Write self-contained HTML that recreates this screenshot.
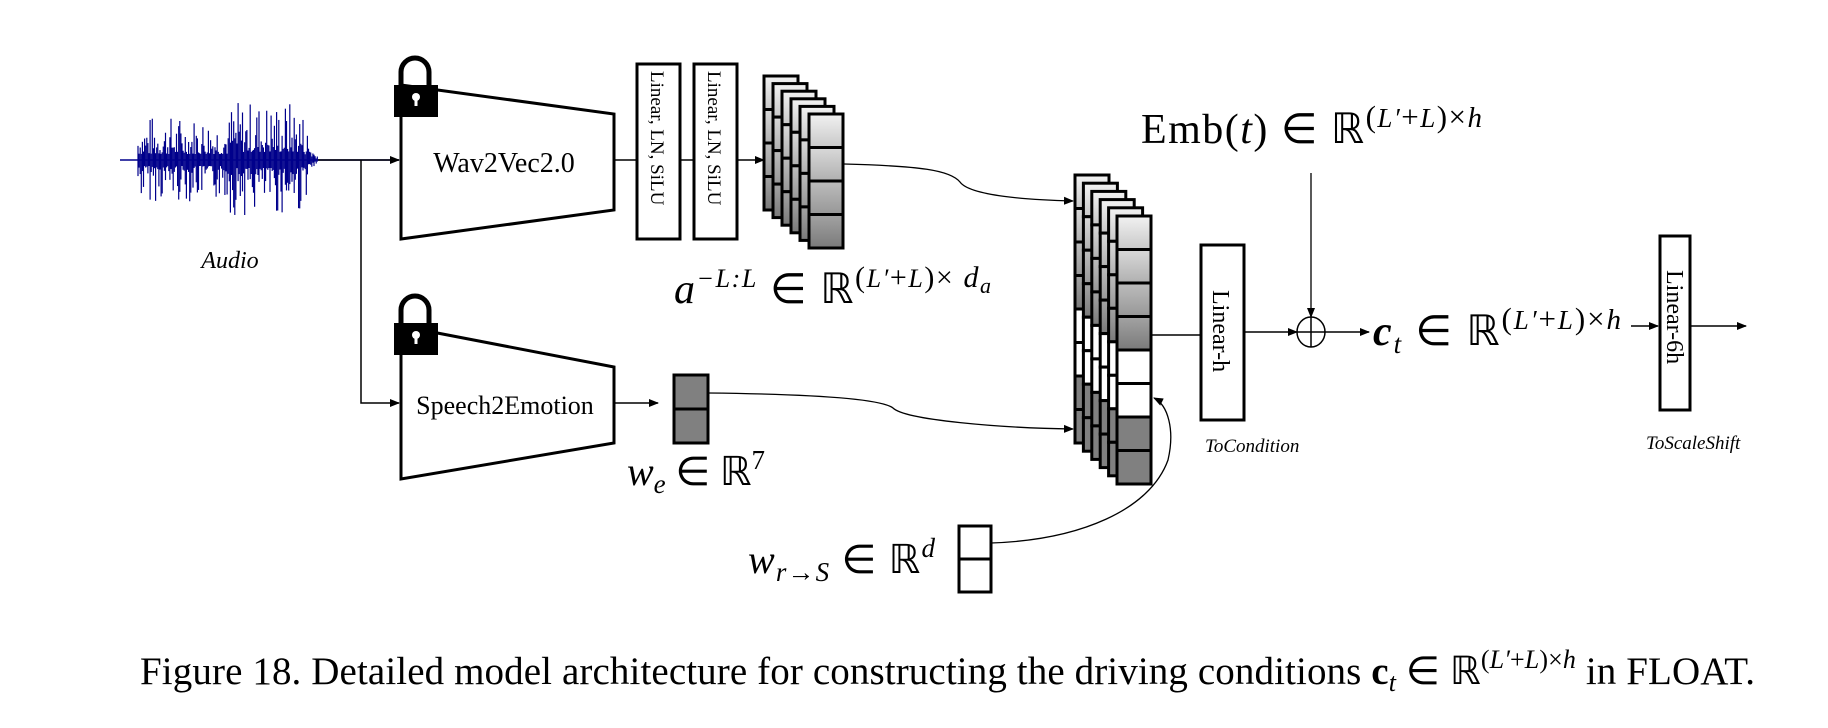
<!DOCTYPE html>
<html><head><meta charset="utf-8"><style>
html,body{margin:0;padding:0;background:#fff;}
svg{display:block;}
text{font-family:"Liberation Serif",serif;}
</style></head><body>
<svg id="s" width="1828" height="728" viewBox="0 0 1828 728" xmlns="http://www.w3.org/2000/svg">
<defs>
<marker id="ar" markerWidth="10" markerHeight="10" refX="9" refY="5" orient="auto" markerUnits="userSpaceOnUse"><path d="M0,1 L10,5 L0,9 z" fill="#000"/></marker>
<linearGradient id="g1" x1="0" y1="0" x2="0" y2="1"><stop offset="0" stop-color="#f2f2f2"/><stop offset="1" stop-color="#c8c8c8"/></linearGradient>
<linearGradient id="g2" x1="0" y1="0" x2="0" y2="1"><stop offset="0" stop-color="#d9d9d9"/><stop offset="1" stop-color="#b0b0b0"/></linearGradient>
<linearGradient id="g3" x1="0" y1="0" x2="0" y2="1"><stop offset="0" stop-color="#bdbdbd"/><stop offset="1" stop-color="#979797"/></linearGradient>
<linearGradient id="g4" x1="0" y1="0" x2="0" y2="1"><stop offset="0" stop-color="#a3a3a3"/><stop offset="1" stop-color="#7a7a7a"/></linearGradient>
</defs>
<g id="wave" stroke="#00008b" stroke-width="1.2"></g>
<line x1="120" y1="160" x2="399" y2="160" stroke="#00008b" stroke-width="1.5"/>
<line x1="318" y1="160" x2="399" y2="160" stroke="#000" stroke-width="1.5" marker-end="url(#ar)"/>
<polyline points="361,160 361,403 399,403" fill="none" stroke="#000" stroke-width="1.5" marker-end="url(#ar)"/>
<text x="230" y="268" font-size="24" font-style="italic" text-anchor="middle">Audio</text>

<polygon points="401,85 614,114 614,210 401,239" fill="#fff" stroke="#000" stroke-width="3"/>
<text x="504" y="172" font-size="28" text-anchor="middle">Wav2Vec2.0</text>
<g transform="translate(394,56)">
<path d="M7,30 V16 a14,14 0 0 1 28,0 V30" fill="none" stroke="#000" stroke-width="5"/>
<rect x="0" y="29" width="44" height="32" fill="#000"/>
<circle cx="22" cy="41" r="4" fill="#fff"/><rect x="20.5" y="42" width="3" height="8" fill="#fff"/>
</g>
<line x1="614" y1="160" x2="637" y2="160" stroke="#000" stroke-width="1.5"/>
<rect x="637" y="64" width="43" height="175" fill="#fff" stroke="#000" stroke-width="3"/>
<line x1="680" y1="160" x2="694" y2="160" stroke="#000" stroke-width="1.5"/>
<rect x="694" y="64" width="43" height="175" fill="#fff" stroke="#000" stroke-width="3"/>
<text transform="translate(651,71) rotate(90)" font-size="19">Linear, LN, SiLU</text>
<text transform="translate(708,71) rotate(90)" font-size="19">Linear, LN, SiLU</text>
<line x1="737" y1="160" x2="764" y2="160" stroke="#000" stroke-width="1.5" marker-end="url(#ar)"/>
<g id="stackA"></g>
<text x="674" y="303" font-size="42" font-style="italic" textLength="317" lengthAdjust="spacing">a<tspan dy="-16" font-size="26">−L:L</tspan><tspan dy="16" font-style="normal"> ∈ ℝ</tspan><tspan dy="-16" font-size="30" font-style="normal">(</tspan><tspan font-size="26">L′</tspan><tspan font-size="30" font-style="normal">+</tspan><tspan font-size="26">L</tspan><tspan font-size="30" font-style="normal">)× </tspan><tspan font-size="30">d</tspan><tspan dy="6" font-size="22">a</tspan></text>

<polygon points="401,326 614,367 614,443 401,479" fill="#fff" stroke="#000" stroke-width="3"/>
<text x="505" y="414" font-size="26" text-anchor="middle">Speech2Emotion</text>
<g transform="translate(394,294)">
<path d="M7,30 V16 a14,14 0 0 1 28,0 V30" fill="none" stroke="#000" stroke-width="5"/>
<rect x="0" y="29" width="44" height="32" fill="#000"/>
<circle cx="22" cy="41" r="4" fill="#fff"/><rect x="20.5" y="42" width="3" height="8" fill="#fff"/>
</g>
<line x1="614" y1="403" x2="658" y2="403" stroke="#000" stroke-width="1.5" marker-end="url(#ar)"/>
<rect x="674" y="375" width="34" height="34" fill="#808080" stroke="#000" stroke-width="3"/>
<rect x="674" y="409" width="34" height="34" fill="#808080" stroke="#000" stroke-width="3"/>
<text x="627" y="485" font-size="40" font-style="italic" textLength="138" lengthAdjust="spacing">w<tspan dy="8" font-size="27">e</tspan><tspan dy="-8" font-style="normal"> ∈ ℝ</tspan><tspan dy="-16" font-size="27" font-style="normal">7</tspan></text>

<rect x="959" y="526" width="32" height="33" fill="#fff" stroke="#000" stroke-width="3"/>
<rect x="959" y="559" width="32" height="33" fill="#fff" stroke="#000" stroke-width="3"/>
<text x="748" y="573" font-size="40" font-style="italic" textLength="187" lengthAdjust="spacing">w<tspan dy="8" font-size="27">r→S</tspan><tspan dy="-8" font-style="normal"> ∈ ℝ</tspan><tspan dy="-16" font-size="27">d</tspan></text>

<path d="M844,164 C920,166 950,170 960,182 C970,196 1030,200 1073,201" fill="none" stroke="#000" stroke-width="1.3" marker-end="url(#ar)"/>
<path d="M708,393 C800,394 880,398 893,408 C905,420 1000,428 1073,429" fill="none" stroke="#000" stroke-width="1.3" marker-end="url(#ar)"/>
<g id="stackB"></g>
<path d="M991,543 C1080,540 1150,510 1168,460 C1175,430 1168,405 1154,398" fill="none" stroke="#000" stroke-width="1.3" marker-end="url(#ar)"/>

<line x1="1151" y1="335" x2="1201" y2="335" stroke="#000" stroke-width="1.5"/>
<rect x="1201" y="245" width="43" height="175" fill="#fff" stroke="#000" stroke-width="3"/>
<text transform="translate(1213,290) rotate(90)" font-size="24">Linear-h</text>
<text x="1205" y="452" font-size="19" font-style="italic">ToCondition</text>
<line x1="1244" y1="332" x2="1297" y2="332" stroke="#000" stroke-width="1.5" marker-end="url(#ar)"/>
<ellipse cx="1311" cy="332" rx="14" ry="15" fill="#fff" stroke="#000" stroke-width="1.5"/>
<line x1="1297" y1="332" x2="1325" y2="332" stroke="#000" stroke-width="1.5"/>
<line x1="1311" y1="317" x2="1311" y2="347" stroke="#000" stroke-width="1.5"/>
<line x1="1311" y1="173" x2="1311" y2="317" stroke="#000" stroke-width="1.3" marker-end="url(#ar)"/>
<line x1="1325" y1="332" x2="1369" y2="332" stroke="#000" stroke-width="1.5" marker-end="url(#ar)"/>
<text x="1141" y="143" font-size="42" textLength="341" lengthAdjust="spacing">Emb(<tspan font-style="italic">t</tspan>) ∈ ℝ<tspan dy="-16" font-size="31">(</tspan><tspan font-size="27" font-style="italic">L′</tspan><tspan font-size="31">+</tspan><tspan font-size="27" font-style="italic">L</tspan><tspan font-size="31">)×</tspan><tspan font-size="29" font-style="italic">h</tspan></text>
<text x="1373" y="345" font-size="42" font-style="italic" font-weight="bold" textLength="248" lengthAdjust="spacing">c<tspan dy="8" font-size="27" font-weight="normal">t</tspan><tspan dy="-8" font-style="normal" font-weight="normal"> ∈ ℝ</tspan><tspan dy="-16" font-size="31" font-style="normal" font-weight="normal">(</tspan><tspan font-size="27" font-weight="normal">L′</tspan><tspan font-size="31" font-style="normal" font-weight="normal">+</tspan><tspan font-size="27" font-weight="normal">L</tspan><tspan font-size="31" font-style="normal" font-weight="normal">)×</tspan><tspan font-size="29" font-weight="normal">h</tspan></text>
<line x1="1631" y1="326" x2="1658" y2="326" stroke="#000" stroke-width="1.5" marker-end="url(#ar)"/>
<rect x="1660" y="236" width="30" height="174" fill="#fff" stroke="#000" stroke-width="3"/>
<text transform="translate(1667,270) rotate(90)" font-size="24">Linear-6h</text>
<line x1="1690" y1="326" x2="1746" y2="326" stroke="#000" stroke-width="1.5" marker-end="url(#ar)"/>
<text x="1646" y="449" font-size="19" font-style="italic">ToScaleShift</text>

<text x="140" y="684" font-size="39" textLength="1615" lengthAdjust="spacing">Figure 18. Detailed model architecture for constructing the driving conditions <tspan font-weight="bold">c</tspan><tspan dy="7" font-size="26" font-style="italic">t</tspan><tspan dy="-7"> ∈ ℝ</tspan><tspan dy="-16" font-size="26">(</tspan><tspan font-size="26" font-style="italic">L′</tspan><tspan font-size="26">+</tspan><tspan font-size="26" font-style="italic">L</tspan><tspan font-size="26">)×</tspan><tspan font-size="26" font-style="italic">h</tspan><tspan dy="16"> in FLOAT.</tspan></text>
</svg>
<script>
var NS="http://www.w3.org/2000/svg";
function el(p,t,a){var e=document.createElementNS(NS,t);for(var k in a)e.setAttribute(k,a[k]);p.appendChild(e);return e;}
var w=document.getElementById('wave');var seed=7;function r(){seed=(seed*9301+49297)%233280;return seed/233280;}
for(var x=138;x<318;x+=1.1){var env=(x<230?0.75:1)*(x>300?Math.max(0.2,(318-x)/18):1);var up=(8+Math.pow(r(),2.2)*52)*env;var dn=(8+Math.pow(r(),2.2)*48)*env;el(w,'line',{x1:x,y1:160-Math.min(up,57),x2:x,y2:160+Math.min(dn,55)});}
var A=document.getElementById('stackA');var fillsA=['url(#g1)','url(#g2)','url(#g3)','url(#g4)'];
for(var i=0;i<6;i++){var x0=764+i*9,y0=76+i*7.6;for(var c=0;c<4;c++){el(A,'rect',{x:x0,y:y0+c*33.5,width:34,height:33.5,fill:fillsA[c],stroke:'#000','stroke-width':3});}}
var B=document.getElementById('stackB');var fillsB=['url(#g1)','url(#g2)','url(#g3)','url(#g4)','#fff','#fff','#808080','#808080'];
for(var i=0;i<6;i++){var x0=1075+i*8.4,y0=175+i*8.2;for(var c=0;c<8;c++){el(B,'rect',{x:x0,y:y0+c*33.5,width:34,height:33.5,fill:fillsB[c],stroke:'#000','stroke-width':3});}}
</script>
</body></html>
